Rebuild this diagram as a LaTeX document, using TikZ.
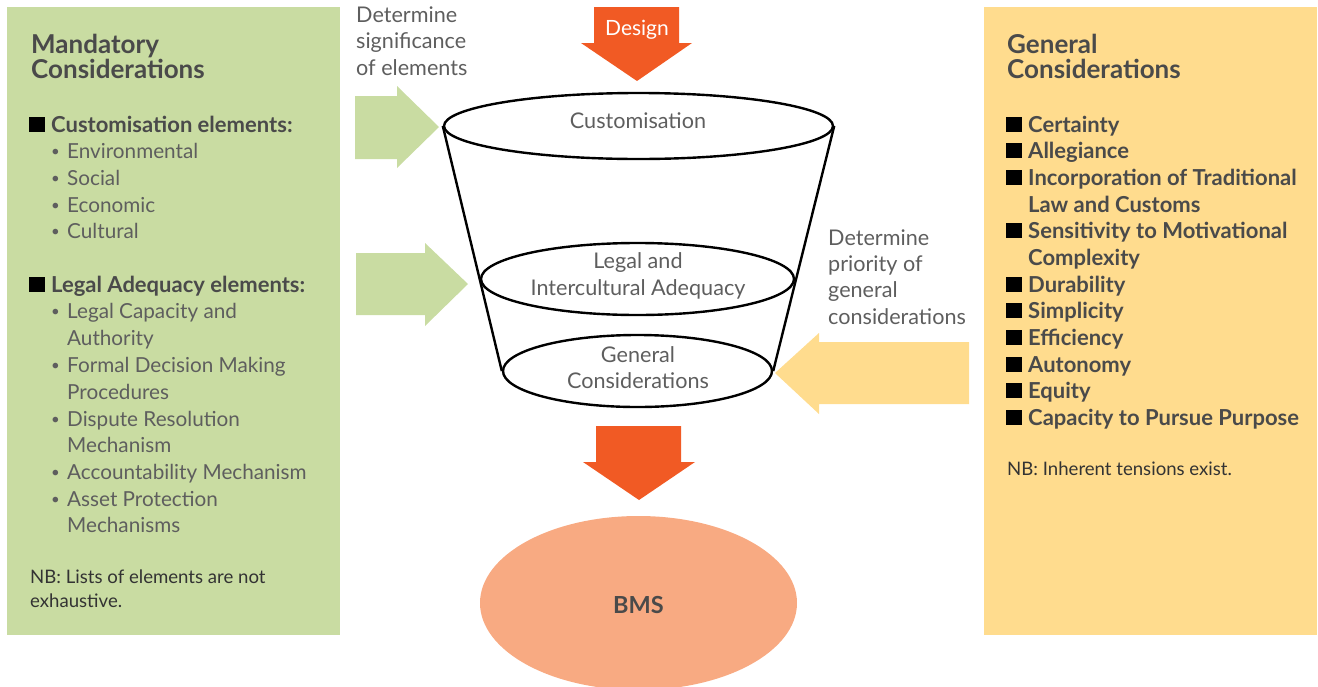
\documentclass[tikz,border=0pt]{standalone}
\usepackage{fontspec}
\setmainfont{Lato}
\usetikzlibrary{shapes.geometric}
\definecolor{panelgreen}{HTML}{C9DCA2}
\definecolor{panelyellow}{HTML}{FFDC8E}
\definecolor{flame}{HTML}{F15A24}
\definecolor{salmon}{HTML}{F8AA82}
\definecolor{headgray}{HTML}{4A4A4A}
\definecolor{bodygray}{HTML}{5E5E5E}
\definecolor{notegray}{HTML}{333333}
\begin{document}
\begin{tikzpicture}[x=1pt,y=-1pt,
  txt/.style={inner sep=0pt, anchor=base west, text=bodygray, font=\fontsize{21.6}{25}\selectfont},
  lite/.style={inner sep=0pt, anchor=base west, text=bodygray, font=\fontsize{20.7}{24}\selectfont},
  head/.style={inner sep=0pt, anchor=base west, text=headgray, font=\fontsize{26}{29}\selectfont\bfseries},
  item/.style={inner sep=0pt, anchor=base west, text=headgray, font=\fontsize{22}{25}\selectfont\bfseries},
  note/.style={inner sep=0pt, anchor=base west, text=notegray, font=\fontsize{18.6}{22}\selectfont},
  ctr/.style={inner sep=0pt, anchor=base, text=bodygray, font=\fontsize{21.6}{25}\selectfont},
  sq/.style={fill=black},
  rim/.style={draw=black, line width=2.4pt, ellipse, inner sep=0pt},
  side/.style={draw=black, line width=2.4pt}
]
\useasboundingbox (0,0) rectangle (1318,686);

% side panels
\fill[panelgreen] (7,7) rectangle (340,635);
\fill[panelyellow] (984,7) rectangle (1317,635);

% block arrows
\fill[panelgreen] (355,96) -- (397,96) -- (397,86) -- (439,127) -- (397,168) -- (397,159) -- (355,159) -- cycle;
\fill[panelgreen] (356,253) -- (425,253) -- (425,243) -- (468,284) -- (425,326) -- (425,315) -- (356,315) -- cycle;
\fill[panelyellow] (969,342) -- (819,342) -- (819,333) -- (775,373) -- (819,414) -- (819,404) -- (969,404) -- cycle;
\fill[flame] (594,7) -- (679,7) -- (679,43) -- (692,43) -- (637,81) -- (581,43) -- (594,43) -- cycle;
\fill[flame] (596,426) -- (681,426) -- (681,462) -- (695,462) -- (639,500) -- (583,462) -- (596,462) -- cycle;
\node[ctr, text=white, font=\fontsize{21}{24}\selectfont] (design) at (637,35) {Design};

% BMS
\node[ellipse, fill=salmon, minimum width=317pt, minimum height=174pt, inner sep=0pt] (bms) at (638.5,603) {};
\node[ctr, text=headgray, font=\fontsize{23.5}{28}\selectfont\bfseries] (bmslabel) at (638.5,613) {BMS};

% funnel
\node[rim, minimum width=389pt, minimum height=66pt] (top) at (638.5,126) {};
\node[rim, minimum width=313pt, minimum height=72pt] (mid) at (637.5,279) {};
\node[rim, minimum width=269pt, minimum height=72pt] (bot) at (637.5,371) {};
\draw[side] (top.west) -- (bot.west);
\draw[side] (top.east) -- (bot.east);
\node[ctr] (c1) at (638,128) {Customisation};
\node[ctr] (c2) at (638,268) {Legal and};
\node[ctr] (c3) at (638,295) {Intercultural Adequacy};
\node[ctr] (c4) at (638,362) {General};
\node[ctr] (c5) at (638,388) {Considerations};

% side captions
\node[txt] (d1) at (356,22) {Determine};
\node[txt] (d2) at (356,48) {significance};
\node[txt] (d3) at (356,75) {of elements};
\node[txt] (p1) at (828,245) {Determine};
\node[txt] (p2) at (828,271) {priority of};
\node[txt] (p3) at (828,297) {general};
\node[txt] (p4) at (828,324) {considerations};

% left panel
\node[head] (m1) at (31,53) {Mandatory};
\node[head] (m2) at (31,78) {Considerations};
\fill[sq] (29,116.5) rectangle (45,132);
\node[item] (ce) at (51,132) {Customisation elements:};
\fill[sq] (29,276.5) rectangle (45,292);
\node[item] (le) at (51,292) {Legal Adequacy elements:};
\foreach \y/\t [count=\i] in {158/Environmental, 185/Social, 212/Economic, 238/Cultural,
    318/Legal Capacity and, 345/Authority, 372/Formal Decision Making, 399/Procedures,
    426/Dispute Resolution, 452/Mechanism, 479/Accountability Mechanism,
    506/Asset Protection, 532/Mechanisms}
  \node[lite] (lt\i) at (67,\y) {\t};
\foreach \y [count=\i] in {158,185,212,238,318,372,426,479,506}
  \node[inner sep=0pt, anchor=base west, text=bodygray, font=\fontsize{15}{18}\selectfont] (lb\i) at (51,\y-1.5) {•};
\node[note] (n1) at (30,583) {NB: Lists of elements are not};
\node[note] (n2) at (30,607) {exhaustive.};

% right panel
\node[head] (g1) at (1007,53) {General};
\node[head] (g2) at (1007,78) {Considerations};
\foreach \y/\t [count=\i] in {132/Certainty, 158/Allegiance, 185/Incorporation of Traditional,
    212/Law and Customs, 238/Sensitivity to Motivational, 265/Complexity, 292/Durability,
    318/Simplicity, 345/Efficiency, 372/Autonomy, 398/Equity, 425/Capacity to Pursue Purpose}
  \node[item] (rt\i) at (1028,\y) {\t};
\foreach \y in {132,158,185,238,292,318,345,372,398,425}
  \fill[sq] (1006,\y-15.5) rectangle (1022,\y);
\node[note] (n3) at (1007,475) {NB: Inherent tensions exist.};
\end{tikzpicture}
\end{document}
